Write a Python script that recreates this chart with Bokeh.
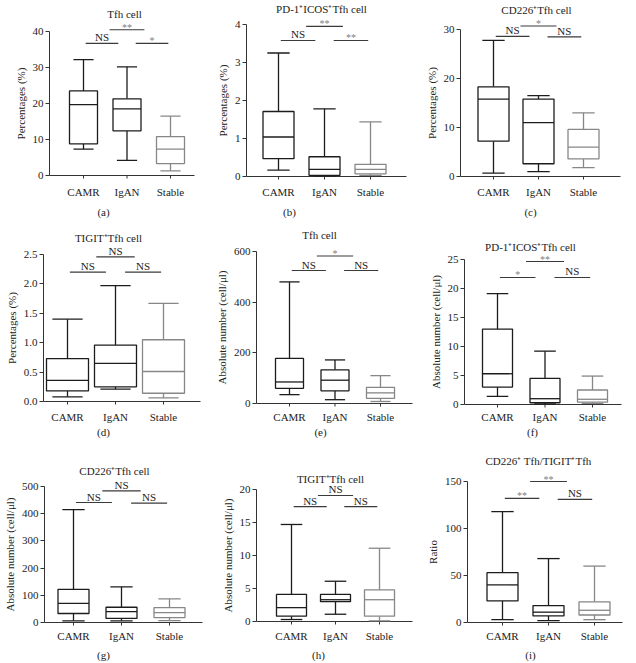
from bokeh.plotting import figure
from bokeh.layouts import column, row
from bokeh.models import Range1d, FixedTicker, ColumnDataSource
from bokeh.core.properties import value
from bokeh.embed import file_html
from bokeh.resources import INLINE

groups = ["CAMR", "IgAN", "Stable"]
group_x = [1, 2, 3]

titles = ["Tfh cell", "PD-1\u207aICOS\u207aTfh cell", "CD226\u207aTfh cell",
          "TIGIT\u207aTfh cell", "Tfh cell", "PD-1\u207aICOS\u207aTfh cell",
          "CD226\u207aTfh cell", "TIGIT\u207aTfh cell", "CD226\u207a Tfh/TIGIT\u207aTfh"]
ylabels = ["Percentages (%)"] * 4 + ["Absolute number (cell/\u03bcl)"] * 4 + ["Ratio"]
panel_tags = ["(a)", "(b)", "(c)", "(d)", "(e)", "(f)", "(g)", "(h)", "(i)"]

y_ticks = [[0, 10, 20, 30, 40], [0, 1, 2, 3, 4], [0, 10, 20, 30],
           [0, 0.5, 1.0, 1.5, 2.0, 2.5], [0, 200, 400, 600], [0, 5, 10, 15, 20, 25],
           [0, 100, 200, 300, 400, 500], [0, 5, 10, 15, 20], [0, 50, 100, 150]]
y_tick_labels = [["0", "10", "20", "30", "40"], ["0", "1", "2", "3", "4"], ["0", "10", "20", "30"],
                 ["0.0", "0.5", "1.0", "1.5", "2.0", "2.5"], ["0", "200", "400", "600"],
                 ["0", "5", "10", "15", "20", "25"], ["0", "100", "200", "300", "400", "500"],
                 ["0", "5", "10", "15", "20"], ["0", "50", "100", "150"]]

# box statistics per panel: [CAMR, IgAN, Stable]
whisker_low = [[7.3, 4.2, 1.3], [0.17, 0.02, 0.03], [0.7, 1.0, 1.8],
               [0.08, 0.21, 0.06], [35, 15, 8], [1.4, 0.1, 0.2],
               [6, 6, 7], [0.3, 1.1, 0.1], [3, 2, 3]]
q1 = [[8.8, 12.4, 3.3], [0.47, 0.03, 0.07], [7.2, 2.6, 3.6],
      [0.18, 0.25, 0.14], [60, 50, 20], [3.0, 0.3, 0.4],
      [33, 15, 18], [0.8, 3.0, 0.8], [23, 7, 8]]
median = [[19.7, 18.5, 7.3], [1.04, 0.19, 0.19], [15.8, 11.0, 6.0],
          [0.36, 0.65, 0.51], [85, 92, 42], [5.3, 1.0, 0.9],
          [70, 40, 36], [2.1, 3.3, 3.3], [40, 11, 13]]
q3 = [[23.5, 21.3, 10.8], [1.71, 0.52, 0.32], [18.3, 15.8, 9.6],
      [0.73, 0.96, 1.05], [178, 133, 64], [13.0, 4.5, 2.5],
      [122, 56, 55], [4.1, 4.1, 4.8], [53, 18, 22]]
whisker_high = [[32.2, 30.2, 16.5], [3.25, 1.78, 1.44], [27.8, 16.5, 13.0],
                [1.40, 1.97, 1.67], [480, 172, 110], [19.1, 9.2, 4.9],
                [415, 131, 87], [14.7, 6.1, 11.1], [118, 68, 60]]

# significance: [CAMR vs IgAN, CAMR vs Stable, IgAN vs Stable]
sig_labels = [["NS", "**", "*"], ["NS", "**", "**"], ["NS", "*", "NS"],
              ["NS", "NS", "NS"], ["NS", "*", "NS"], ["*", "**", "NS"],
              ["NS", "NS", "NS"], ["NS", "NS", "NS"], ["**", "**", "NS"]]
sig_levels = [[36.7, 40.5, 36.7], [3.58, 3.95, 3.58], [28.6, 30.7, 28.5],
              [2.20, 2.46, 2.20], [525, 582, 525], [21.9, 24.65, 21.9],
              [441, 484, 439], [17.4, 19.1, 17.4], [132, 150, 131]]
sig_spans = [(1.05, 1.8), (1.6, 2.4), (2.2, 2.95)]

# ---- layout (pixels, relative to each panel) ----
FONT = "Liberation Serif"
DARK = "#1c1c1c"
GREY = "#878787"
AXIS_C = "#333333"
TXT_C = "#222222"
group_colors = [DARK, DARK, GREY]

FIG_W = 212
row_heights = [221, 221, 219]
yaxis_px = [49, 34, 36, 43, 44, 40, 44, 44, 43]
xend_px = [194, 194, 196, 200, 200, 197, 202, 200, 198]
cat1_px = [83, 66, 69, 67, 77, 73, 73, 79, 78]
spacing_px = [43.5, 46, 45, 48, 45.5, 47.5, 48, 44, 46]
box_px = [28, 31, 31, 42, 28, 30, 31, 30, 31]
title_x_px = [124, 109, 112, 108, 107, 106, 114, 118, 114]
title_y_px = [13, 8, 9, 16, 13, 25, 28, 36, 18]
top_y_px = [31, 24, 29, 33, 30, 38, 44, 47, 39]
axis_y_px = [175, 176, 176, 180, 182, 183, 180, 179, 180]
cat_y_px = [191, 195, 193]
tag_y_px = [211, 210, 212]
tag_x_px = [103, 77, 106, 103, 108, 108, 103, 106, 106]


def make_panel(i, H, r):
    T = y_ticks[i][-1]
    ky = (axis_y_px[i] - top_y_px[i]) / T       # px per data unit (y)
    y_end = T + top_y_px[i] / ky
    y_start = -(H - axis_y_px[i]) / ky
    kx = spacing_px[i]                          # px per category step
    x_start = 1 - cat1_px[i] / kx
    x_end = x_start + FIG_W / kx

    def xd(px):
        return x_start + px / kx

    def yd(px):
        return y_end - px / ky

    p = figure(width=FIG_W, height=H, output_backend="svg", toolbar_location=None,
               x_range=Range1d(x_start, x_end), y_range=Range1d(y_start, y_end),
               x_axis_location=None,
               min_border_left=0, min_border_right=0, min_border_top=0,
               min_border_bottom=0)
    p.title.visible = False
    p.outline_line_color = None
    p.xgrid.visible = False
    p.ygrid.visible = False
    p.background_fill_color = "white"
    p.border_fill_color = "white"

    ya = p.yaxis[0]
    ya.fixed_location = xd(yaxis_px[i])
    ya.ticker = FixedTicker(ticks=y_ticks[i])
    ya.major_label_overrides = {t: l for t, l in zip(y_ticks[i], y_tick_labels[i])}
    ya.bounds = (0, T)
    ya.axis_label = ylabels[i]
    ya.axis_label_text_font = FONT
    ya.axis_label_text_font_size = "11px"
    ya.axis_label_text_font_style = "normal"
    ya.axis_label_text_color = TXT_C
    ya.axis_label_standoff = 3
    ya.major_label_text_font = FONT
    ya.major_label_text_font_size = "11px"
    ya.major_label_text_color = TXT_C
    ya.major_label_standoff = 2
    ya.major_tick_in = 0
    ya.major_tick_out = 4
    ya.minor_tick_in = 0
    ya.minor_tick_out = 0
    ya.axis_line_color = AXIS_C
    ya.major_tick_line_color = AXIS_C

    # x axis line, ticks and category labels at y = 0
    p.segment(x0=[xd(yaxis_px[i])], y0=[0], x1=[xd(xend_px[i])], y1=[0],
              line_color=AXIS_C, line_width=1)
    p.segment(x0=group_x, y0=[0] * 3, x1=group_x, y1=[-3 / ky] * 3,
              line_color=AXIS_C, line_width=1)
    p.text(x=group_x, y=[yd(cat_y_px[r])] * 3, text=groups,
           text_align="center", text_baseline="middle", text_font=value(FONT),
           text_font_size="11px", text_color=TXT_C)
    p.text(x=[xd(tag_x_px[i])], y=[yd(tag_y_px[r])], text=[panel_tags[i]],
           text_align="center", text_baseline="middle", text_font=value(FONT),
           text_font_size="11px", text_color=TXT_C)
    p.text(x=[xd(title_x_px[i])], y=[yd(title_y_px[i])], text=[titles[i]],
           text_align="center", text_baseline="middle", text_font=value(FONT),
           text_font_size="11px", text_color=TXT_C)

    bw = box_px[i] / kx
    cw = 0.72 * bw
    src = ColumnDataSource(dict(
        x=group_x, lo=whisker_low[i], q1=q1[i], med=median[i], q3=q3[i], hi=whisker_high[i],
        xl=[x - bw / 2 for x in group_x], xr=[x + bw / 2 for x in group_x],
        cl=[x - cw / 2 for x in group_x], cr=[x + cw / 2 for x in group_x],
        color=group_colors))

    lw = 1.3
    p.segment(x0="x", y0="q3", x1="x", y1="hi", source=src, line_color="color", line_width=lw)
    p.segment(x0="x", y0="lo", x1="x", y1="q1", source=src, line_color="color", line_width=lw)
    p.segment(x0="cl", y0="hi", x1="cr", y1="hi", source=src, line_color="color", line_width=lw)
    p.segment(x0="cl", y0="lo", x1="cr", y1="lo", source=src, line_color="color", line_width=lw)
    p.quad(left="xl", right="xr", bottom="q1", top="q3", source=src,
           fill_color="white", line_color="color", line_width=lw)
    p.segment(x0="xl", y0="med", x1="xr", y1="med", source=src, line_color="color", line_width=lw)

    for (a, b), lab, lev in zip(sig_spans, sig_labels[i], sig_levels[i]):
        p.segment(x0=[a], y0=[lev], x1=[b], y1=[lev], line_color="#3a3a3a", line_width=1.1)
        is_star = lab.startswith("*")
        p.text(x=[(a + b) / 2], y=[lev], text=[lab], text_align="center",
               text_baseline="bottom", text_font=value(FONT),
               text_font_size="10px" if is_star else "11px",
               text_color="#808080" if is_star else TXT_C,
               y_offset=3 if is_star else 0)
    return p


rows = []
k = 0
for r in range(3):
    figs = []
    for c in range(3):
        figs.append(make_panel(k, row_heights[r], r))
        k += 1
    rows.append(row(*figs))

layout = column(*rows)
open("out.html", "w").write(file_html(layout, INLINE))
